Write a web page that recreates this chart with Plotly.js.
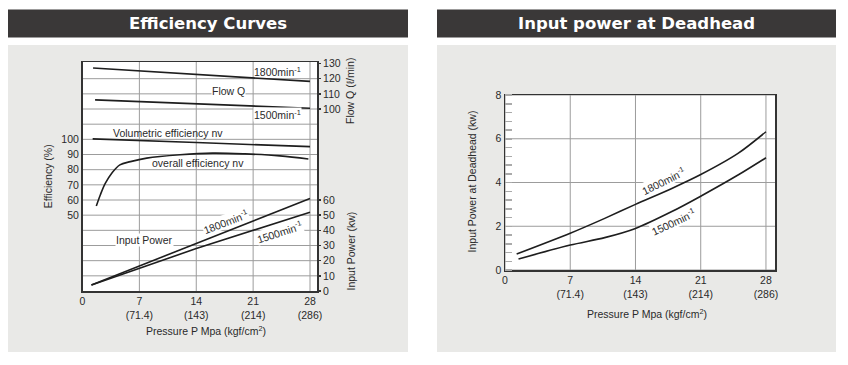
<!DOCTYPE html>
<html>
<head>
<meta charset="utf-8">
<script src="https://cdn.plot.ly/plotly-3.0.1.min.js"></script>
<style>html,body{margin:0;padding:0;background:#fff;}#chart{width:848px;height:365px;}</style>
</head>
<body>
<div id="chart"></div>
<script>
// ---------- data: Efficiency Curves (left) ----------
const pressureTicks = [0, 7, 14, 21, 28];
const pressureTickText = ['0', '7<br>(71.4)', '14<br>(143)', '21<br>(214)', '28<br>(286)'];

const flow1800P = [1.3, 28];
const flow1800Q = [127, 118.2];
const flow1500P = [1.55, 28];
const flow1500Q = [106, 100.5];

const volEffP = [1.25, 14, 28];
const volEff = [100.3, 97.9, 95.2];

const overallEffP = [1.7, 2.2, 2.8, 3.6, 4.6, 5.9, 7.9, 12, 16, 20, 24.3, 27.8];
const overallEff = [56, 63.5, 71, 77.7, 83.2, 85.3, 87.6, 89.8, 90.9, 90.4, 89.1, 87];

const power1800P = [1.1, 14, 28];
const power1800 = [4, 31.3, 61];
const power1500P = [1.1, 14, 28];
const power1500 = [4, 28, 52];

const effTickVals = [10, 20, 30, 40, 50, 60, 70, 80, 90, 100, 110, 120, 130, 140];
const effLabelled = [50, 60, 70, 80, 90, 100];
const powerTickVals = [0, 10, 20, 30, 40, 50, 60];
const flowTickVals = [100, 110, 120, 130];

// ---------- data: Input power at Deadhead (right) ----------
const dead1800P = [1.25, 7, 10.7, 14, 17.9, 20.9, 25, 28];
const dead1800 = [0.73, 1.68, 2.36, 3.0, 3.73, 4.34, 5.33, 6.32];
const dead1500P = [1.45, 7, 10.7, 14, 17.9, 20.9, 25, 28];
const dead1500 = [0.5, 1.14, 1.48, 1.9, 2.67, 3.35, 4.34, 5.13];
const deadTickVals = [0, 2, 4, 6, 8];

// ---------- helpers ----------
const W = 848, H = 365;
const px = v => v / W;
const py = v => 1 - v / H;
const FONT = 'Liberation Sans, Arial, Helvetica, sans-serif';
const TXT = '#2a2a2a';
const LINE = {color: '#1e1e1e', width: 1.6};
const GRID = '#9c9c9c';
const PANEL = '#e9e9e7';
const sup = '<sup>-1</sup>';

// plot-area boxes in pixels [x0, x1, yTop, yBottom]
const leftBox = [82.5, 317, 62, 291];
const rightBox = [505, 775, 95, 270];
const leftPanel = [8, 408, 45, 352];
const rightPanel = [437, 836, 45, 352];

const traces = [
  {x: flow1800P, y: flow1800Q, yaxis: 'y3', xaxis: 'x', mode: 'lines', line: LINE},
  {x: flow1500P, y: flow1500Q, yaxis: 'y3', xaxis: 'x', mode: 'lines', line: LINE},
  {x: volEffP, y: volEff, yaxis: 'y', xaxis: 'x', mode: 'lines', line: Object.assign({shape: 'spline'}, LINE)},
  {x: overallEffP, y: overallEff, yaxis: 'y', xaxis: 'x', mode: 'lines', line: Object.assign({shape: 'spline', smoothing: 1}, LINE)},
  {x: power1800P, y: power1800, yaxis: 'y2', xaxis: 'x', mode: 'lines', line: LINE},
  {x: power1500P, y: power1500, yaxis: 'y2', xaxis: 'x', mode: 'lines', line: LINE},
  {x: dead1800P, y: dead1800, xaxis: 'x2', yaxis: 'y4', mode: 'lines', line: Object.assign({shape: 'spline', smoothing: 0.8}, LINE)},
  {x: dead1500P, y: dead1500, xaxis: 'x2', yaxis: 'y4', mode: 'lines', line: Object.assign({shape: 'spline', smoothing: 0.8}, LINE)}
].map(t => Object.assign({hoverinfo: 'skip', showlegend: false}, t));

const tickfont = {family: FONT, size: 10.5, color: TXT};
const boxLine = {showline: true, linecolor: '#333', linewidth: 1.5, mirror: true};

function frame(panel, box) {
  const [X0, X1, Y0, Y1] = panel;
  const [x0, x1, y0, y1] = box;
  const r = (a, b, c, d) => ({type: 'rect', xref: 'paper', yref: 'paper', x0: px(a), x1: px(b), y0: py(d), y1: py(c), fillcolor: PANEL, line: {width: 0}, layer: 'below'});
  return [r(X0, X1, Y0, y0), r(X0, X1, y1, Y1), r(X0, x0, y0, y1), r(x1, X1, y0, y1)];
}
const bar = (x0, x1) => ({type: 'rect', xref: 'paper', yref: 'paper', x0: px(x0), x1: px(x1), y0: py(37.5), y1: py(9.5), fillcolor: '#3a3838', line: {width: 0}, layer: 'below'});

// grid lines drawn at the tick values through the axes
const vGrid = (xa, ya, vals) => vals.map(v => ({type: 'line', xref: xa, yref: ya + ' domain', x0: v, x1: v, y0: 0, y1: 1, line: {color: GRID, width: 1}, layer: 'below'}));
const hGrid = (xa, ya, vals) => vals.map(v => ({type: 'line', xref: xa + ' domain', yref: ya, x0: 0, x1: 1, y0: v, y1: v, line: {color: GRID, width: 1}, layer: 'below'}));

const layout = {
  width: W, height: H,
  margin: {l: 0, r: 0, t: 0, b: 0},
  paper_bgcolor: '#ffffff',
  plot_bgcolor: '#ffffff',
  showlegend: false,
  font: {family: FONT, size: 10.5, color: TXT},
  xaxis: Object.assign({
    domain: [px(leftBox[0]), px(leftBox[1])], range: [0, 28.86], anchor: 'y',
    tickmode: 'array', tickvals: pressureTicks, ticktext: pressureTickText,
    showgrid: false, zeroline: false, ticks: '',
    tickfont: tickfont
  }, boxLine),
  yaxis: Object.assign({
    domain: [py(leftBox[3]), py(leftBox[2])], range: [0, 151], anchor: 'x',
    tickmode: 'array', tickvals: effLabelled,
    showgrid: false, zeroline: false, ticks: '',
    tickfont: tickfont
  }, boxLine),
  yaxis2: {
    overlaying: 'y', side: 'right', anchor: 'x', range: [0, 151],
    tickmode: 'array', tickvals: powerTickVals,
    showgrid: false, zeroline: false, showline: false,
    ticks: 'outside', ticklen: 3, tickwidth: 1.5, tickcolor: '#333', tickfont: tickfont
  },
  yaxis3: {
    overlaying: 'y', side: 'right', anchor: 'x', range: [-20, 131],
    tickmode: 'array', tickvals: flowTickVals,
    showgrid: false, zeroline: false, showline: false,
    ticks: 'outside', ticklen: 3, tickwidth: 1.5, tickcolor: '#333', tickfont: tickfont
  },
  xaxis2: Object.assign({
    domain: [px(rightBox[0]), px(rightBox[1])], range: [0, 28.97], anchor: 'y4',
    tickmode: 'array', tickvals: pressureTicks, ticktext: pressureTickText,
    showgrid: false, zeroline: false, ticks: '',
    tickfont: tickfont
  }, boxLine),
  yaxis4: Object.assign({
    domain: [py(rightBox[3]), py(rightBox[2])], range: [0, 8], anchor: 'x2',
    tickmode: 'array', tickvals: deadTickVals,
    showgrid: false, zeroline: false, ticks: '',
    minor: {dtick: 0.4, ticks: 'inside', ticklen: 7, tickwidth: 1.5, tickcolor: '#aaaaaa', showgrid: false},
    tickfont: tickfont
  }, boxLine),
  shapes: [].concat(
    frame(leftPanel, leftBox), frame(rightPanel, rightBox), [bar(8, 408), bar(437, 836)],
    vGrid('x', 'y', pressureTicks), hGrid('x', 'y', effTickVals),
    vGrid('x2', 'y4', pressureTicks), hGrid('x2', 'y4', deadTickVals)
  ),
  annotations: []
};

const A = layout.annotations;
const titleFont = {family: 'DejaVu Sans, Liberation Sans, sans-serif', size: 16.5, color: '#ffffff'};
A.push({xref: 'paper', yref: 'paper', x: px(208), y: py(23.5), text: '<b>Efficiency Curves</b>', showarrow: false, xanchor: 'center', yanchor: 'middle', font: titleFont});
A.push({xref: 'paper', yref: 'paper', x: px(636.5), y: py(23.5), text: '<b>Input power at Deadhead</b>', showarrow: false, xanchor: 'center', yanchor: 'middle', font: titleFont});

const axFont = {family: FONT, size: 10.5, color: TXT};
A.push({xref: 'paper', yref: 'paper', x: px(205.7), y: py(330.7), text: 'Pressure P Mpa (kgf/cm<sup>2</sup>)', showarrow: false, xanchor: 'center', yanchor: 'middle', font: axFont});
A.push({xref: 'paper', yref: 'paper', x: px(646.7), y: py(313.3), text: 'Pressure P Mpa (kgf/cm<sup>2</sup>)', showarrow: false, xanchor: 'center', yanchor: 'middle', font: axFont});
A.push({xref: 'paper', yref: 'paper', x: px(48.3), y: py(176), text: 'Efficiency (%)', textangle: -90, showarrow: false, xanchor: 'center', yanchor: 'middle', font: axFont});
A.push({xref: 'paper', yref: 'paper', x: px(350), y: py(91), text: 'Flow Q (ℓ/min)', textangle: -90, showarrow: false, xanchor: 'center', yanchor: 'middle', font: axFont});
A.push({xref: 'paper', yref: 'paper', x: px(350), y: py(251.5), text: 'Input Power (kw)', textangle: -90, showarrow: false, xanchor: 'center', yanchor: 'middle', font: axFont});
A.push({xref: 'paper', yref: 'paper', x: px(471.7), y: py(181.7), text: 'Input Power at Deadhead (kw)', textangle: -90, showarrow: false, xanchor: 'center', yanchor: 'middle', font: axFont});

const lab = (xref, yref, x, y, text, angle, bg) => A.push({
  xref, yref, x, y, text, textangle: angle || 0, showarrow: false,
  xanchor: 'center', yanchor: 'middle', font: axFont,
  bgcolor: bg ? '#ffffff' : 'rgba(0,0,0,0)', borderpad: bg ? 0 : 1
});
lab('x', 'y3', 23.94, 124.8, '1800min' + sup, 0, false);
lab('x', 'y3', 17.94, 112.2, 'Flow Q', 0, true);
lab('x', 'y3', 23.94, 96.2, '1500min' + sup, 0, true);
lab('x', 'y', 10.56, 104.1, 'Volumetric efficiency nv', 0, false);
lab('x', 'y', 14.25, 84.7, 'overall efficiency nv', 0, false);
lab('x', 'y2', 7.69, 33.7, 'Input Power', 0, true);
lab('x', 'y2', 17.54, 46, '1800min' + sup, -21, true);
lab('x', 'y2', 24.3, 39.2, '1500min' + sup, -18, true);
lab('x2', 'y4', 16.98, 4.08, '1800min' + sup, -26, true);
lab('x2', 'y4', 18.06, 2.2, '1500min' + sup, -25, true);

Plotly.newPlot('chart', traces, layout, {staticPlot: true, displayModeBar: false});
</script>
</body>
</html>
